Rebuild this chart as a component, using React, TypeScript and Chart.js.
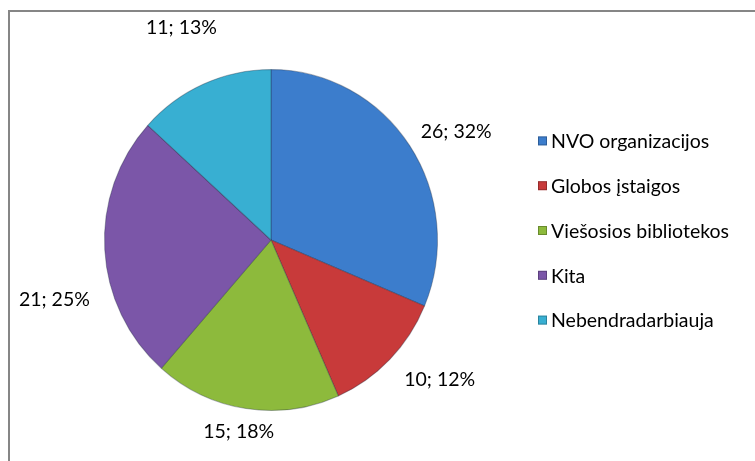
import React, { useEffect, useRef } from 'react';
import { Chart, registerables } from 'chart.js';

Chart.register(...registerables);

// ---- data ----
const categories = ['NVO organizacijos', 'Globos įstaigos', 'Viešosios bibliotekos', 'Kita', 'Nebendradarbiauja'];
const counts = [26, 10, 15, 21, 11];
const percents = [32, 12, 18, 25, 13];
const colors = ['#3c7dcc', '#c83a3a', '#8dba3c', '#7b56a8', '#38afd2'];

// ---- layout / style ----
const W = 755;
const H = 461;
const CX = 271;
const CY = 240;
const RX = 167;
const RY = 171;
const Y_STRETCH = RY / RX;
const FONT = '19.5px Lato, "Noto Sans", sans-serif';
const LABEL_GAP = 12;
const LABEL_HALF_H = 10;
// per-label placement nudges (Excel "best fit" placement), in px
const labelNudgeX = [7, 16, 0, -3, -3];
const labelNudgeY = [-2, 5, 1, 49, -36];
const LEGEND_CENTER_Y = 230.5;
const LEGEND_STEP = 44.8;
const LEGEND_BOX_X = 538;
const LEGEND_BOX = 9;
const LEGEND_TEXT_X = 551;

const ellipsePlugin = {
  id: 'ellipsePie',
  beforeDatasetsDraw(chart: any) {
    const { ctx, chartArea } = chart;
    const cx = (chartArea.left + chartArea.right) / 2;
    const cy = (chartArea.top + chartArea.bottom) / 2;
    ctx.save();
    ctx.translate(cx, cy);
    ctx.scale(1, Y_STRETCH);
    ctx.translate(-cx, -cy);
  },
  afterDatasetsDraw(chart: any) {
    const { ctx } = chart;
    ctx.restore();
    const meta = chart.getDatasetMeta(0);
    ctx.save();
    ctx.font = FONT;
    ctx.fillStyle = '#000000';
    ctx.textAlign = 'center';
    ctx.textBaseline = 'middle';
    meta.data.forEach((arc: any, i: number) => {
      const p = arc.getProps(['startAngle', 'endAngle', 'outerRadius', 'x', 'y'], true);
      const mid = (p.startAngle + p.endAngle) / 2;
      const c = Math.cos(mid);
      const s = Math.sin(mid);
      const text = `${counts[i]}; ${percents[i]}%`;
      const w = ctx.measureText(text).width;
      const ax = p.x + c * (p.outerRadius + LABEL_GAP);
      const ay = p.y + s * (p.outerRadius * Y_STRETCH + LABEL_GAP);
      ctx.fillText(text, ax + (c * w) / 2 + labelNudgeX[i], ay + s * LABEL_HALF_H + labelNudgeY[i]);
    });
    ctx.restore();
  },
  afterDraw(chart: any) {
    const { ctx } = chart;
    const labels: string[] = chart.data.labels;
    const bg: string[] = chart.data.datasets[0].backgroundColor;
    ctx.save();
    ctx.font = FONT;
    ctx.textAlign = 'left';
    ctx.textBaseline = 'middle';
    labels.forEach((lab, i) => {
      const y = LEGEND_CENTER_Y + (i - (labels.length - 1) / 2) * LEGEND_STEP;
      ctx.fillStyle = bg[i];
      ctx.fillRect(LEGEND_BOX_X, y - LEGEND_BOX / 2, LEGEND_BOX, LEGEND_BOX);
      ctx.strokeStyle = 'rgba(0,0,0,0.25)';
      ctx.lineWidth = 1;
      ctx.strokeRect(LEGEND_BOX_X + 0.5, y - LEGEND_BOX / 2 + 0.5, LEGEND_BOX - 1, LEGEND_BOX - 1);
      ctx.fillStyle = '#000000';
      ctx.fillText(lab, LEGEND_TEXT_X, y + 1);
    });
    ctx.restore();
  },
};

export default function App() {
  const ref = useRef<HTMLCanvasElement | null>(null);
  useEffect(() => {
    if (!ref.current) return;
    const chart = new Chart(ref.current, {
      type: 'pie',
      data: {
        labels: categories,
        datasets: [
          {
            data: counts,
            backgroundColor: colors,
            borderColor: 'rgba(30,40,60,0.35)',
            borderWidth: 1,
            clip: false as any,
          },
        ],
      },
      options: {
        responsive: false,
        animation: false,
        events: [],
        layout: {
          padding: {
            left: CX - RX,
            right: W - (CX + RX),
            top: CY - RX,
            bottom: H - (CY + RX),
          },
        },
        plugins: {
          legend: { display: false },
          tooltip: { enabled: false },
          title: { display: false },
        },
      },
      plugins: [ellipsePlugin],
    });
    return () => chart.destroy();
  }, []);

  return (
    <div style={{ position: 'absolute', left: 0, top: 0, width: W, height: H, background: '#ffffff', overflow: 'hidden' }}>
      <div
        style={{
          position: 'absolute',
          left: 8,
          top: 10,
          width: W,
          height: H,
          borderTop: '2px solid #868686',
          borderLeft: '2px solid #868686',
        }}
      />
      <canvas ref={ref} width={W} height={H} style={{ position: 'absolute', left: 0, top: 0, width: W, height: H }} />
    </div>
  );
}
